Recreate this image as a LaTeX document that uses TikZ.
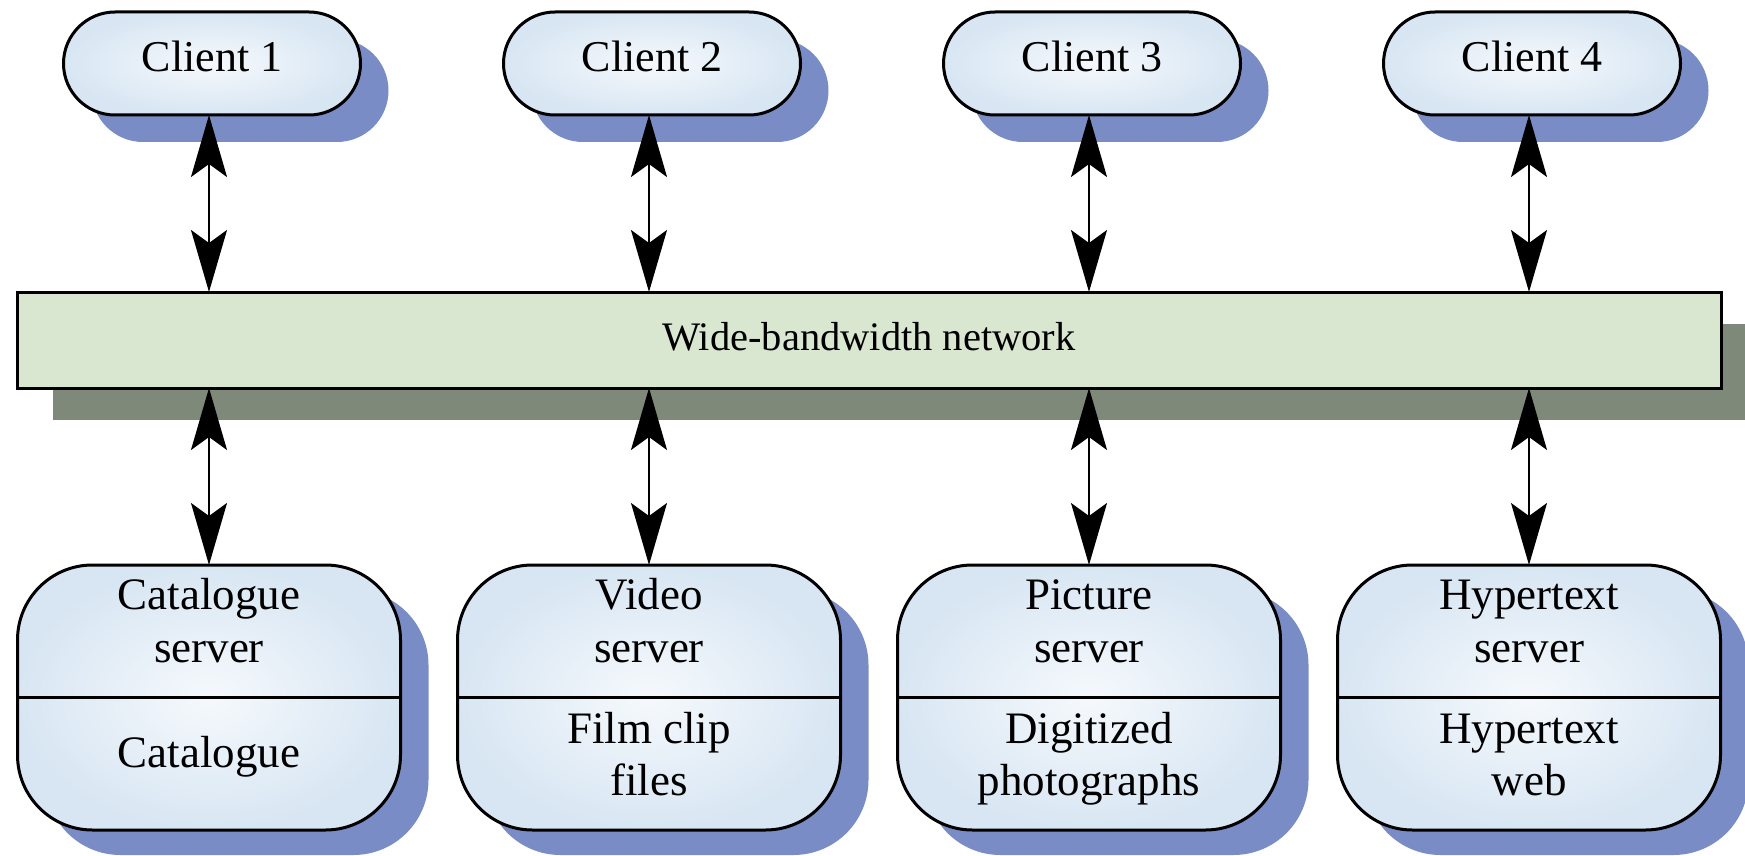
\documentclass[tikz,border=0pt]{standalone}
\usepackage{fontspec}
\setmainfont{Liberation Serif}
\usetikzlibrary{shadows,arrows.meta,calc}

\definecolor{boxblue}{RGB}{216,230,243}
\definecolor{shadeblue}{RGB}{122,140,197}
\definecolor{netgreen}{RGB}{217,230,208}
\definecolor{netshadow}{RGB}{127,137,122}

\begin{document}
\begin{tikzpicture}[x=1pt,y=-1pt,
  every node/.style={inner sep=0pt, outer sep=0pt},
  client/.style={draw, line width=3pt, rounded corners=51.5pt,
    minimum width=297pt, minimum height=103pt,
    inner color=boxblue!25, outer color=boxblue,
    copy shadow={shadow xshift=28pt, shadow yshift=-27pt, fill=shadeblue, draw=none},
    font=\fontsize{44}{52}\selectfont, text height=29pt, text depth=12pt},
  server/.style={draw, line width=3pt, rounded corners=75pt,
    minimum width=383pt, minimum height=265pt,
    inner color=boxblue!25, outer color=boxblue,
    copy shadow={shadow xshift=28pt, shadow yshift=-25pt, fill=shadeblue, draw=none}},
  network/.style={draw, line width=3pt, minimum width=1704pt, minimum height=96pt,
    left color=netgreen, middle color=netgreen!20, right color=netgreen,
    copy shadow={shadow xshift=36pt, shadow yshift=-32pt, fill=netshadow, draw=none},
    font=\fontsize{40.5}{48}\selectfont, text height=29pt, text depth=9pt},
  txt/.style={anchor=base, font=\fontsize{45}{52}\selectfont},
  divider/.style={line width=3pt},
  link/.style={line width=2pt,
    {Stealth[length=62pt,width=36pt,inset=13pt]}-{Stealth[length=62pt,width=36pt,inset=13pt]}}]

\useasboundingbox (0,0) rectangle (1745,856);

% the shared network bar
\node[network] (net) at (869,340) {Wide-bandwidth network};

% clients above, servers below, each linked through the network
\foreach \k in {1,2,3,4}{
  \pgfmathsetmacro\cx{209+440*(\k-1)}
  \node[client] (c\k) at (\cx+3,63.5) {Client \k};
  \node[server] (s\k) at (\cx,697.5) {};
  \draw[divider] (s\k.west) -- (s\k.east);
  \draw[link] (c\k.south -| s\k.north) -- (net.north -| s\k.north);
  \draw[link] (net.south -| s\k.north) -- (s\k.north);
}

% server names and their stores
\node[txt] (s1a) at (209,609) {Catalogue};
\node[txt] (s1b) at (209,662) {server};
\node[txt] (s1c) at (209,767) {Catalogue};

\node[txt] (s2a) at (649,609) {Video};
\node[txt] (s2b) at (649,662) {server};
\node[txt] (s2c) at (649,743) {Film clip};
\node[txt] (s2d) at (649,795) {files};

\node[txt] (s3a) at (1089,609) {Picture};
\node[txt] (s3b) at (1089,662) {server};
\node[txt] (s3c) at (1089,743) {Digitized};
\node[txt] (s3d) at (1089,795) {photographs};

\node[txt] (s4a) at (1529,609) {Hypertext};
\node[txt] (s4b) at (1529,662) {server};
\node[txt] (s4c) at (1529,743) {Hypertext};
\node[txt] (s4d) at (1529,795) {web};
\end{tikzpicture}
\end{document}
